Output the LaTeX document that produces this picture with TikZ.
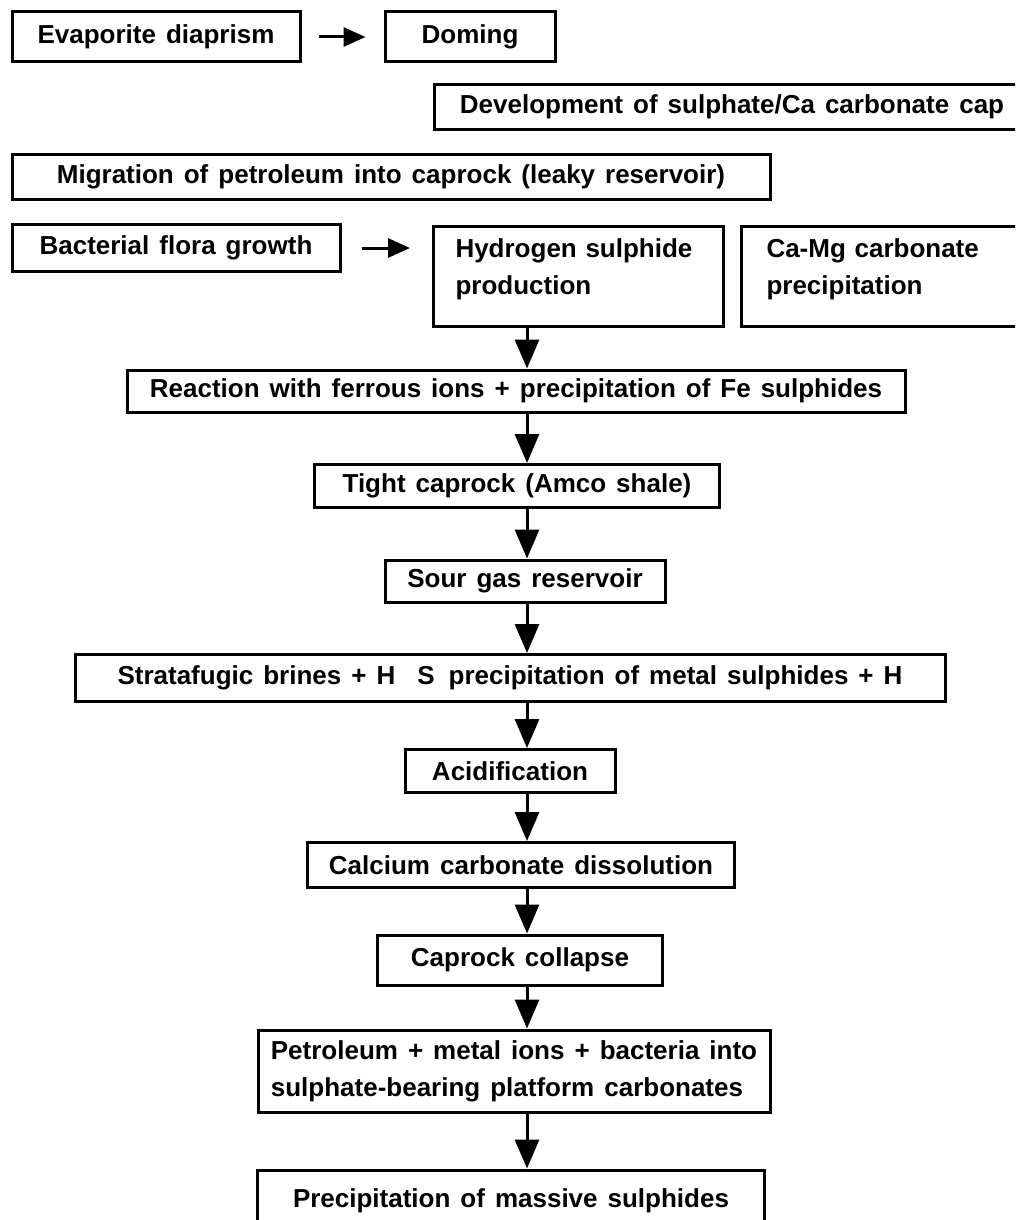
\documentclass[tikz,border=0pt]{standalone}
\usepackage{fontspec}
\setmainfont{Liberation Sans}
\usetikzlibrary{arrows.meta}

\newcommand\stagefont{\fontsize{26}{37}\selectfont\bfseries\spaceskip 10pt plus 2pt minus 1pt\relax}

\tikzset{
  stage/.style={draw, line width=3pt, inner sep=0pt, font={\stagefont}},
  flow/.style={line width=3pt, -{Triangle[length=29pt,width=24pt]}},
  sideflow/.style={line width=3pt, -{Triangle[length=22pt,width=19pt]}},
}

\begin{document}
\begin{tikzpicture}[x=1pt, y=-1pt]
    \useasboundingbox (0,0) rectangle (1015,1220);
    \clip (0,0) rectangle (1015,1220);

    % Top rows
    \node[stage, minimum width=288pt, minimum height=50pt] (evap) at (156,37) {Evaporite diaprism};
    \node[stage, minimum width=170pt, minimum height=50pt] (doming) at (470,37) {Doming};
    \node[stage, minimum width=595pt, minimum height=45pt] (capdev) at (732,107) {Development of sulphate/Ca carbonate cap};
    \node[stage, minimum width=758pt, minimum height=45pt] (migration) at (391,177) {Migration of petroleum into caprock (leaky reservoir)};
    \node[stage, minimum width=328pt, minimum height=47pt] (flora) at (176,248) {Bacterial flora growth};
    \node[stage, anchor=north west, align=left, inner xsep=22pt, inner ysep=8pt,
        text width=246pt, text height=23pt, text depth=61pt] (hydsul) at (432,225)
        {Hydrogen sulphide\\production};
    \node[stage, anchor=north west, align=left, inner xsep=25pt, inner ysep=8pt,
        text width=250pt, text height=23pt, text depth=61pt] (camg) at (740,225)
        {Ca-Mg carbonate\\precipitation};

    % Main column
    \node[stage, minimum width=778pt, minimum height=42pt] (ferrous) at (516,391) {Reaction with ferrous ions + precipitation of Fe sulphides};
    \node[stage, minimum width=405pt, minimum height=43pt] (tight) at (517,486) {Tight caprock (Amco shale)};
    \node[stage, minimum width=280pt, minimum height=42pt] (sourgas) at (525,581) {Sour gas reservoir};
    \node[stage, minimum width=870pt, minimum height=47pt] (brines) at (510,678) {Stratafugic brines + H\hspace{22pt}S\hspace{14pt}precipitation of metal sulphides + H};
    \node[stage, minimum width=210pt, minimum height=43pt] (acid) at (510,771) {Acidification};
    \node[stage, minimum width=427pt, minimum height=45pt] (dissolve) at (521,865) {Calcium carbonate dissolution};
    \node[stage, minimum width=285pt, minimum height=50pt] (collapse) at (520,960) {Caprock collapse};
    \node[stage, minimum width=512pt, minimum height=82pt, align=left] (platform) at (514,1071)
        {Petroleum + metal ions + bacteria into\\sulphate-bearing platform carbonates};
    \node[stage, minimum width=507pt, minimum height=62pt] (massive) at (511,1201) {Precipitation of massive sulphides};

    % Arrows
    \coordinate (spine) at (527,0);
    \draw[sideflow, shorten <=17pt, shorten >=18pt] (evap.east) -- (doming.west);
    \draw[sideflow, shorten <=20pt, shorten >=22pt] (flora.east) -- (flora.east -| hydsul.west);
    \draw[flow] (hydsul.south -| spine) -- (ferrous.north -| spine);
    \draw[flow] (ferrous.south -| spine) -- (tight.north -| spine);
    \draw[flow] (tight.south -| spine) -- (sourgas.north -| spine);
    \draw[flow] (sourgas.south -| spine) -- (brines.north -| spine);
    \draw[flow] (brines.south -| spine) -- (acid.north -| spine);
    \draw[flow] (acid.south -| spine) -- (dissolve.north -| spine);
    \draw[flow] (dissolve.south -| spine) -- (collapse.north -| spine);
    \draw[flow] (collapse.south -| spine) -- (platform.north -| spine);
    \draw[flow] (platform.south -| spine) -- (massive.north -| spine);
\end{tikzpicture}
\end{document}
